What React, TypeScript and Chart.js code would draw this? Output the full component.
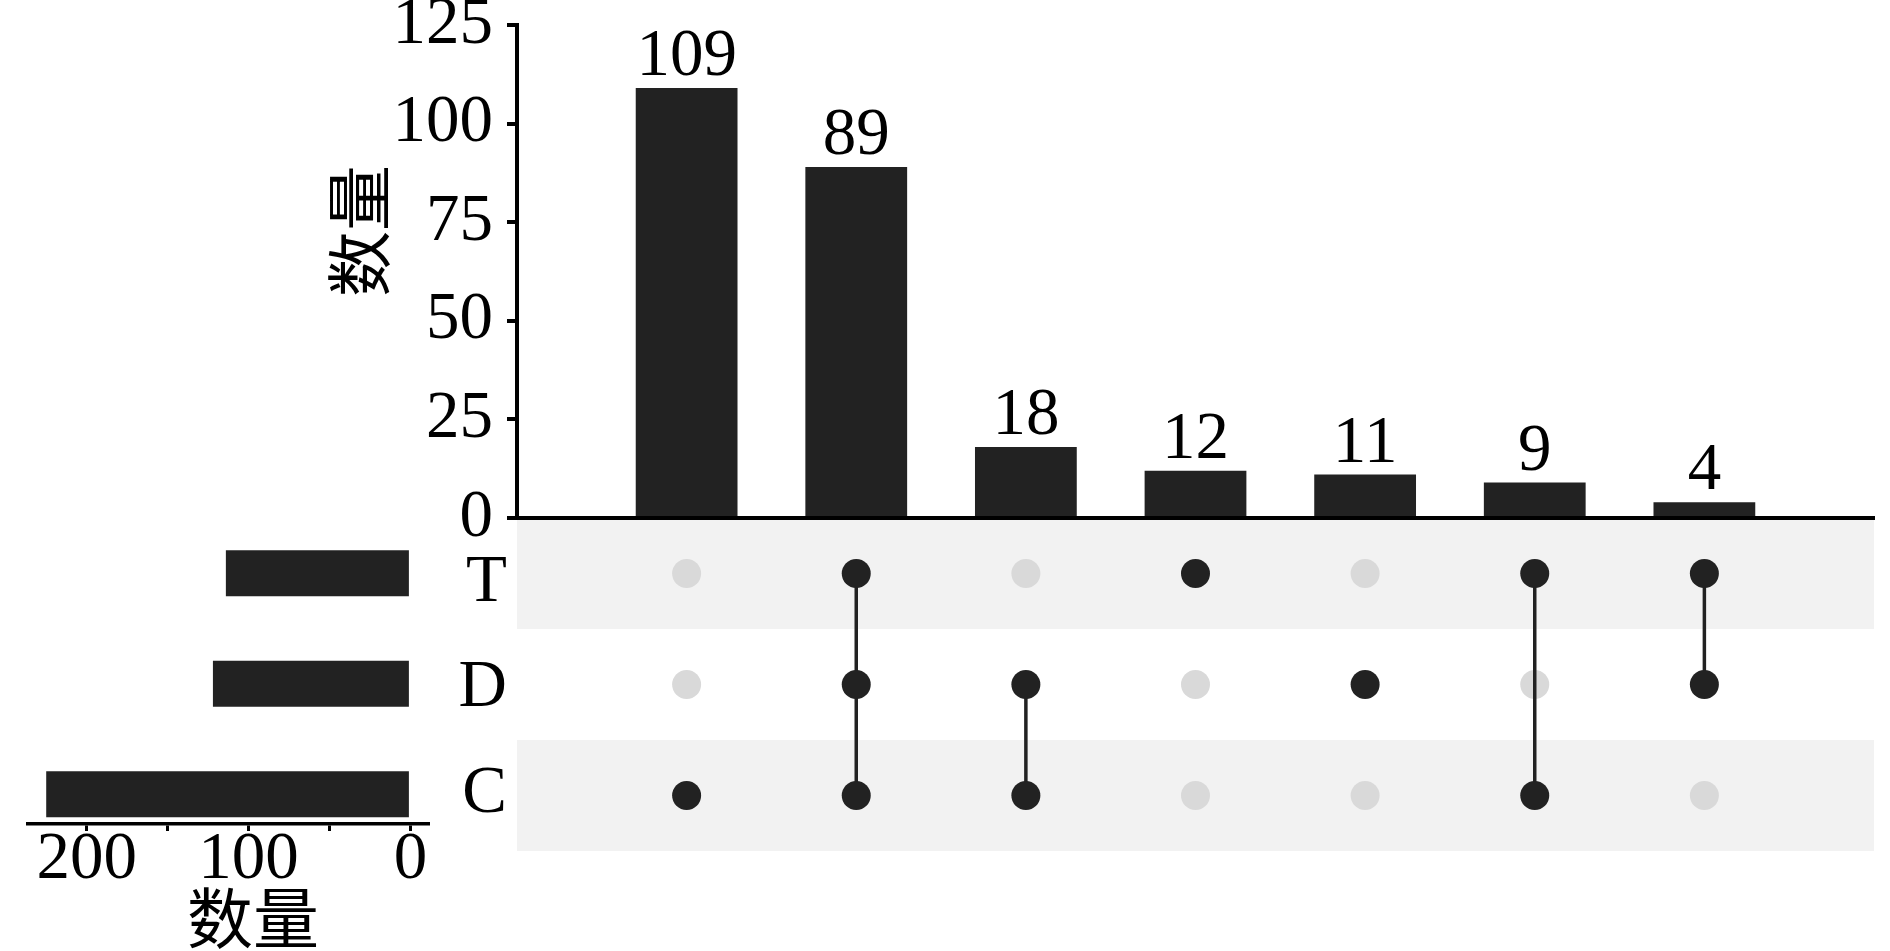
import React, { useEffect, useRef } from 'react';
import { Chart, registerables } from 'chart.js';

Chart.register(...registerables);

// ---------------- data ----------------
const setNames = ['T', 'D', 'C'];
const setSizes = [114, 122, 225];
const intersectionCounts = [109, 89, 18, 12, 11, 9, 4];
const intersectionMembers = [['C'], ['T', 'D', 'C'], ['D', 'C'], ['T'], ['D'], ['T', 'C'], ['T', 'D']];
const countTicks = [0, 25, 50, 75, 100, 125];
const setSizeTicks = [0, 50, 100, 150, 200];
const setSizeTickLabels = [0, 100, 200];
const axisTitle = '数量';

// ---------------- styles ----------------
const LATIN = '"Liberation Serif", "Times New Roman", serif';
const CJK = '"Noto Sans CJK SC", "Noto Sans CJK JP", sans-serif';
const DARK = '#222222';
const LIGHT = '#d9d9d9';
const BAND = '#f2f2f2';
const FONT_SIZE = 67;
const CJK_SIZE = 66;

const rowValue = (name: string) => setNames.length - setNames.indexOf(name);

const barValueLabels = {
  id: 'barValueLabels',
  afterDatasetsDraw(chart: any) {
    const meta = chart.getDatasetMeta(0);
    const ctx = chart.ctx;
    ctx.save();
    ctx.font = `${FONT_SIZE}px ${LATIN}`;
    ctx.fillStyle = '#000';
    ctx.textAlign = 'center';
    ctx.textBaseline = 'alphabetic';
    meta.data.forEach((el: any, i: number) => {
      ctx.fillText(String(intersectionCounts[i]), el.x, el.y - 13);
    });
    ctx.restore();
  },
};

const rotatedTitle = {
  id: 'rotatedTitle',
  afterDraw(chart: any, _args: any, opts: any) {
    const ctx = chart.ctx;
    ctx.save();
    ctx.translate(opts.x, opts.y);
    ctx.rotate(-Math.PI / 2);
    ctx.font = `${CJK_SIZE}px ${CJK}`;
    ctx.fillStyle = '#000';
    ctx.textAlign = 'center';
    ctx.textBaseline = 'middle';
    ctx.fillText(opts.text, 0, 0);
    ctx.restore();
  },
};

const rowBands = {
  id: 'rowBands',
  beforeDatasetsDraw(chart: any) {
    const { ctx, chartArea } = chart;
    const y = chart.scales.y;
    ctx.save();
    ctx.fillStyle = BAND;
    setNames.forEach((name, i) => {
      if (i % 2 !== 0) return;
      const v = rowValue(name);
      const y1 = y.getPixelForValue(v + 0.5);
      const y2 = y.getPixelForValue(v - 0.5);
      ctx.fillRect(chartArea.left, y1, chartArea.right - chartArea.left, y2 - y1);
    });
    ctx.restore();
  },
};

export default function App() {
  const topRef = useRef<HTMLCanvasElement>(null);
  const matRef = useRef<HTMLCanvasElement>(null);
  const setRef = useRef<HTMLCanvasElement>(null);

  useEffect(() => {
    const charts: Chart[] = [];
    const nSlots = intersectionCounts.length + 1;

    // ---------- top intersection-size bars ----------
    charts.push(
      new Chart(topRef.current!, {
        type: 'bar',
        data: {
          datasets: [
            {
              data: intersectionCounts.map((v, i) => ({ x: i + 1, y: v })),
              backgroundColor: DARK,
              barPercentage: 0.6,
              categoryPercentage: 1,
            },
          ],
        },
        options: {
          responsive: false,
          animation: false,
          devicePixelRatio: 1,
          layout: { padding: { left: 300, top: 25, right: 16, bottom: 22 } },
          plugins: {
            legend: { display: false },
            tooltip: { enabled: false },
            rotatedTitle: { text: axisTitle, x: 359, y: 231 },
          } as any,
          scales: {
            x: {
              type: 'linear',
              min: 0,
              max: nSlots,
              offset: false,
              ticks: { display: false },
              grid: { display: false, offset: false },
              border: { display: true, color: '#000', width: 4 },
              afterBuildTicks: (s: any) => {
                s.ticks = intersectionCounts.map((_, i) => ({ value: i + 1 }));
              },
              afterFit: (s: any) => {
                s.height = 0;
                s.paddingLeft = 0;
                s.paddingRight = 0;
              },
            },
            y: {
              type: 'linear',
              min: countTicks[0],
              max: countTicks[countTicks.length - 1],
              ticks: {
                font: { family: LATIN, size: FONT_SIZE },
                color: '#000',
                padding: 14,
              },
              afterBuildTicks: (s: any) => {
                s.ticks = countTicks.map((v) => ({ value: v }));
              },
              grid: { drawOnChartArea: false, drawTicks: true, tickLength: 10, color: '#000', lineWidth: 4 },
              border: { display: true, color: '#000', width: 4 },
              afterFit: (s: any) => {
                s.width = 217;
                s.paddingTop = 0;
                s.paddingBottom = 0;
              },
            },
          },
        } as any,
        plugins: [barValueLabels, rotatedTitle],
      })
    );

    // ---------- matrix ----------
    const inactive: { x: number; y: number }[] = [];
    const active: { x: number; y: number }[] = [];
    const lines: any[] = [];
    intersectionMembers.forEach((members, i) => {
      setNames.forEach((name) => {
        const pt = { x: i + 1, y: rowValue(name) };
        if (members.includes(name)) active.push(pt);
        else inactive.push(pt);
      });
      if (members.length > 1) {
        const rows = members.map(rowValue);
        lines.push({
          type: 'line',
          data: [
            { x: i + 1, y: Math.min(...rows) },
            { x: i + 1, y: Math.max(...rows) },
          ],
          borderColor: DARK,
          borderWidth: 3.5,
          pointRadius: 0,
          fill: false,
          order: 2,
          xAxisID: 'x',
          yAxisID: 'y',
        });
      }
    });

    charts.push(
      new Chart(matRef.current!, {
        type: 'scatter',
        data: {
          datasets: [
            {
              type: 'scatter',
              data: inactive,
              pointRadius: 14.5,
              pointBackgroundColor: LIGHT,
              pointBorderWidth: 0,
              order: 3,
              xAxisID: 'x',
              yAxisID: 'y',
            },
            ...lines,
            {
              type: 'scatter',
              data: active,
              pointRadius: 14.5,
              pointBackgroundColor: DARK,
              pointBorderWidth: 0,
              order: 1,
              xAxisID: 'x',
              yAxisID: 'y',
            },
          ],
        },
        options: {
          responsive: false,
          animation: false,
          devicePixelRatio: 1,
          layout: { padding: { left: 400, top: 18, right: 16, bottom: 100 } },
          plugins: { legend: { display: false }, tooltip: { enabled: false } },
          scales: {
            x: { type: 'linear', min: 0, max: nSlots, display: false },
            y: { type: 'linear', min: 0.5, max: setNames.length + 0.5, display: false },
            yl: {
              type: 'linear',
              position: 'left',
              min: 0.46,
              max: 3.616,
              ticks: {
                font: { family: LATIN, size: FONT_SIZE },
                color: '#000',
                padding: 2,
                callback: (v: any) => setNames[setNames.length - Math.round(Number(v))] ?? '',
              },
              afterBuildTicks: (s: any) => {
                s.ticks = setNames.map((n) => ({ value: rowValue(n) }));
              },
              grid: { display: false },
              border: { display: false },
              afterFit: (s: any) => {
                s.width = 117;
                s.paddingTop = 0;
                s.paddingBottom = 0;
              },
            },
          },
        } as any,
        plugins: [rowBands],
      })
    );

    // ---------- set-size bars ----------
    charts.push(
      new Chart(setRef.current!, {
        type: 'bar',
        data: {
          datasets: [
            {
              data: setSizes.map((v, i) => ({ x: v, y: rowValue(setNames[i]) })),
              backgroundColor: DARK,
              barPercentage: 0.416,
              categoryPercentage: 1,
            },
          ],
        },
        options: {
          indexAxis: 'y',
          responsive: false,
          animation: false,
          devicePixelRatio: 1,
          layout: { padding: { left: 28, top: 518, right: 0, bottom: 0 } },
          plugins: {
            legend: { display: false },
            tooltip: { enabled: false },
            title: {
              display: true,
              text: axisTitle,
              position: 'bottom',
              font: { family: CJK, size: CJK_SIZE, lineHeight: 1, weight: 'normal' },
              color: '#000',
              padding: 0,
            },
          },
          scales: {
            x: {
              type: 'linear',
              reverse: true,
              min: -11.25,
              max: 236.25,
              ticks: {
                font: { family: LATIN, size: FONT_SIZE, lineHeight: 1 },
                color: '#000',
                padding: -4.5,
                maxRotation: 0,
                autoSkip: false,
                callback: (v: any) => (setSizeTickLabels.includes(Number(v)) ? String(v) : ''),
              },
              afterBuildTicks: (s: any) => {
                s.ticks = setSizeTicks.map((v) => ({ value: v }));
              },
              grid: { drawOnChartArea: false, drawTicks: true, tickLength: 7, color: '#000', lineWidth: 3 },
              border: { display: true, color: '#000', width: 3.5 },
              afterFit: (s: any) => {
                s.height = 61;
                s.paddingLeft = 0;
                s.paddingRight = 0;
              },
            },
            y: {
              type: 'linear',
              position: 'right',
              min: 0.73,
              max: setNames.length + 0.5,
              offset: false,
              ticks: { display: false },
              afterBuildTicks: (s: any) => {
                s.ticks = setNames.map((n) => ({ value: rowValue(n) }));
              },
              grid: { display: false, offset: false },
              border: { display: false },
              afterFit: (s: any) => {
                s.width = 49.4;
                s.paddingTop = 0;
                s.paddingBottom = 0;
              },
            },
          },
        } as any,
      })
    );

    return () => charts.forEach((c) => c.destroy());
  }, []);

  const abs = (left: number, top: number, w: number, h: number): React.CSSProperties => ({
    position: 'absolute',
    left,
    top,
    width: w,
    height: h,
  });

  return (
    <div style={{ position: 'absolute', left: 0, top: 0, width: 1890, height: 951, background: '#fff', overflow: 'hidden' }}>
      <canvas ref={setRef} width={478} height={951} style={abs(0, 0, 478, 951)} />
      <canvas ref={matRef} width={1890} height={451} style={abs(0, 500, 1890, 451)} />
      <canvas ref={topRef} width={1890} height={540} style={abs(0, 0, 1890, 540)} />
    </div>
  );
}
